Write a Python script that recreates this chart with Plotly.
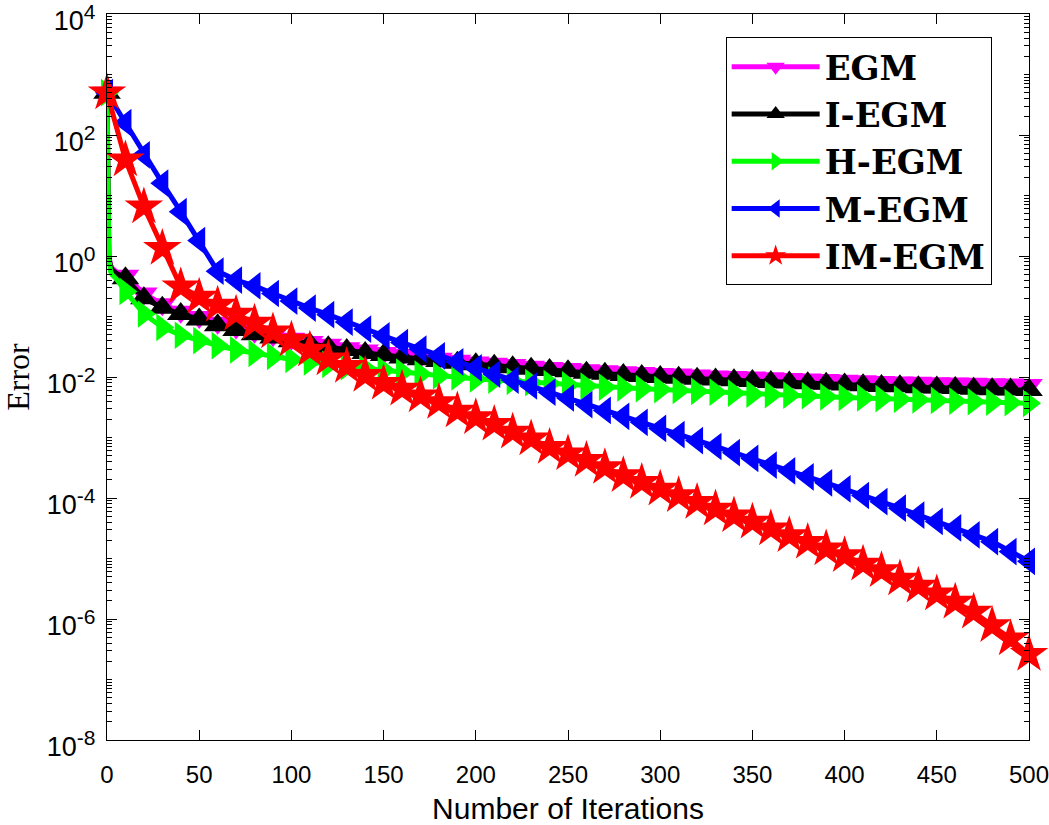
import plotly.graph_objects as go

# iteration grids (markers are drawn every 10 iterations)
iters_fast = [0, 1, 2, 3, 5] + list(range(10, 501, 10))
iters = list(range(0, 501, 10))

egm = [500, 1.0, 0.70, 0.62, 0.55,
       0.47, 0.24, 0.16, 0.12, 0.098, 0.079, 0.066, 0.056, 0.049, 0.043,
       0.038, 0.034, 0.030, 0.0275, 0.025, 0.023, 0.0214, 0.020, 0.0186, 0.0174,
       0.0166, 0.0158, 0.0148, 0.0141, 0.0135, 0.0129, 0.0124, 0.0120, 0.0116, 0.0112,
       0.0110, 0.0106, 0.0102, 0.0100, 0.0098, 0.0095, 0.0093, 0.0091, 0.0089, 0.0087,
       0.0085, 0.0083, 0.0081, 0.0080, 0.0079, 0.0078, 0.0077, 0.0076, 0.0075, 0.0074]

iegm = [500, 0.95, 0.65, 0.58, 0.52,
        0.43, 0.20, 0.14, 0.11, 0.089, 0.072, 0.060, 0.051, 0.045, 0.039,
        0.035, 0.031, 0.028, 0.025, 0.023, 0.021, 0.0196, 0.0184, 0.0172, 0.0162,
        0.0153, 0.0145, 0.0137, 0.0130, 0.0124, 0.0118, 0.0113, 0.0108, 0.0104, 0.0100,
        0.0097, 0.0094, 0.0091, 0.0088, 0.0086, 0.0083, 0.0081, 0.0079, 0.0077, 0.0075,
        0.0073, 0.0071, 0.0070, 0.0068, 0.0067, 0.0066, 0.0064, 0.0063, 0.0062, 0.0061]

hegm = [500, 0.90, 0.55, 0.48, 0.42,
        0.26, 0.11, 0.066, 0.049, 0.040, 0.033, 0.028, 0.0245, 0.022, 0.0195,
        0.0178, 0.0162, 0.0148, 0.0138, 0.0129, 0.0120, 0.0112, 0.0105, 0.0100, 0.0093,
        0.0089, 0.0085, 0.0081, 0.0078, 0.0074, 0.0071, 0.0068, 0.0066, 0.0064, 0.0062,
        0.0060, 0.0058, 0.0056, 0.0054, 0.0052, 0.0051, 0.0050, 0.0049, 0.0047, 0.0046,
        0.0045, 0.0044, 0.0043, 0.0042, 0.0041, 0.0040, 0.0039, 0.00385, 0.00376, 0.00367]

megm = [500, 160, 47, 16, 5.4, 1.8, 0.56, 0.40, 0.32, 0.24, 0.18,
        0.138, 0.107, 0.081, 0.062, 0.048, 0.037, 0.029, 0.0224, 0.0178, 0.0141,
        0.0112, 0.0089, 0.0071, 0.0056, 0.0045, 0.0035, 0.0028, 0.00224, 0.00178, 0.00141,
        0.00112, 8.9e-4, 7.1e-4, 5.6e-4, 4.5e-4, 3.5e-4, 2.8e-4, 2.24e-4, 1.78e-4, 1.41e-4,
        1.1e-4, 8.7e-5, 6.8e-5, 5.2e-5, 4.1e-5, 3.2e-5, 2.45e-5, 1.9e-5, 1.3e-5, 9.0e-6]

imegm = [500, 39, 6.5, 1.34, 0.31, 0.21, 0.155, 0.11, 0.078, 0.056, 0.041,
         0.028, 0.020, 0.015, 0.0107, 0.0079, 0.0063, 0.0049, 0.0038, 0.00275, 0.00214,
         0.00166, 0.00123, 9.5e-4, 6.9e-4, 5.4e-4, 4.2e-4, 3.2e-4, 2.35e-4, 1.82e-4, 1.41e-4,
         1.10e-4, 8.5e-5, 6.6e-5, 5.1e-5, 4.0e-5, 3.1e-5, 2.4e-5, 1.86e-5, 1.45e-5, 1.12e-5,
         8.1e-6, 6.3e-6, 4.6e-6, 3.5e-6, 2.6e-6, 1.9e-6, 1.3e-6, 7.8e-7, 4.7e-7, 2.6e-7]

x_ticks = [0, 50, 100, 150, 200, 250, 300, 350, 400, 450, 500]
y_ticks = [1e-8, 1e-6, 1e-4, 1e-2, 1e0, 1e2, 1e4]
y_exponents = ["-8", "-6", "-4", "-2", "0", "2", "4"]
y_ticktext = ["10<sup><span style='font-size:21px'>%s</span></sup>" % e for e in y_exponents]

series = [
    ("EGM", iters_fast, egm, "#FF00FF", "triangle-down"),
    ("I-EGM", iters_fast, iegm, "#000000", "triangle-up"),
    ("H-EGM", iters_fast, hegm, "#00FF00", "triangle-right"),
    ("M-EGM", iters, megm, "#0000FF", "triangle-left"),
    ("IM-EGM", iters, imegm, "#FF0000", "star"),
]

LW = 5
MS = 24

fig = go.Figure()
for name, xs, ys, color, symbol in series:
    # full line
    fig.add_trace(go.Scatter(x=xs, y=ys, mode="lines", line=dict(color=color, width=LW),
                             showlegend=False, legendgroup=name, hoverinfo="skip"))
    # markers every 10 iterations
    mx = [x for x in xs if x % 10 == 0]
    my = [y for x, y in zip(xs, ys) if x % 10 == 0]
    fig.add_trace(go.Scatter(x=mx, y=my, mode="markers", cliponaxis=False,
                             marker=dict(symbol=symbol, size=MS if symbol != "star" else MS + 5,
                                         color=color, line=dict(width=0)),
                             showlegend=False, legendgroup=name, name=name))

# legend entries
for name, xs, ys, color, symbol in series:
    fig.add_trace(go.Scatter(x=[None], y=[None], mode="lines+markers", name="<b>%s</b>" % name,
                             legendgroup=name,
                             line=dict(color=color, width=LW),
                             marker=dict(symbol=symbol, size=16, color=color)))

axis_common = dict(showline=True, linecolor="black", linewidth=1.3, mirror="ticks",
                   ticks="inside", ticklen=10, tickcolor="black", tickwidth=1,
                   showgrid=False, zeroline=False, automargin=False,
                   ticklabeloverflow="allow")

fig.update_xaxes(range=[0, 500], tickvals=x_ticks,
                 tickfont=dict(family="Liberation Sans, Arial", size=24, color="black"),
                 ticklabelstandoff=13,
                 title=dict(text="Number of Iterations", standoff=14,
                            font=dict(family="Liberation Sans, Arial", size=30, color="black")),
                 **axis_common)
fig.update_yaxes(type="log", range=[-8, 4], tickvals=y_ticks, ticktext=y_ticktext,
                 tickfont=dict(family="Liberation Sans, Arial", size=27, color="black"),
                 ticklabelstandoff=5, ticklabelshift=7,
                 title=dict(text="Error", standoff=10,
                            font=dict(family="Liberation Serif, Times New Roman, serif", size=32, color="black")),
                 minor=dict(ticks="inside", ticklen=5, tickcolor="black", dtick="D1", showgrid=False),
                 **axis_common)

fig.update_layout(
    width=1049, height=825,
    margin=dict(l=107, r=20, t=14, b=85),
    plot_bgcolor="white", paper_bgcolor="white",
    legend=dict(x=0.671, y=0.968, xanchor="left", yanchor="top",
                bordercolor="black", borderwidth=1, bgcolor="white",
                itemwidth=88, tracegroupgap=0,
                font=dict(family="DejaVu Serif, Liberation Serif, serif", size=34, color="black")),
)

fig.write_html("out.html", config={"displayModeBar": False},
               post_script="document.body.style.margin='0';")
